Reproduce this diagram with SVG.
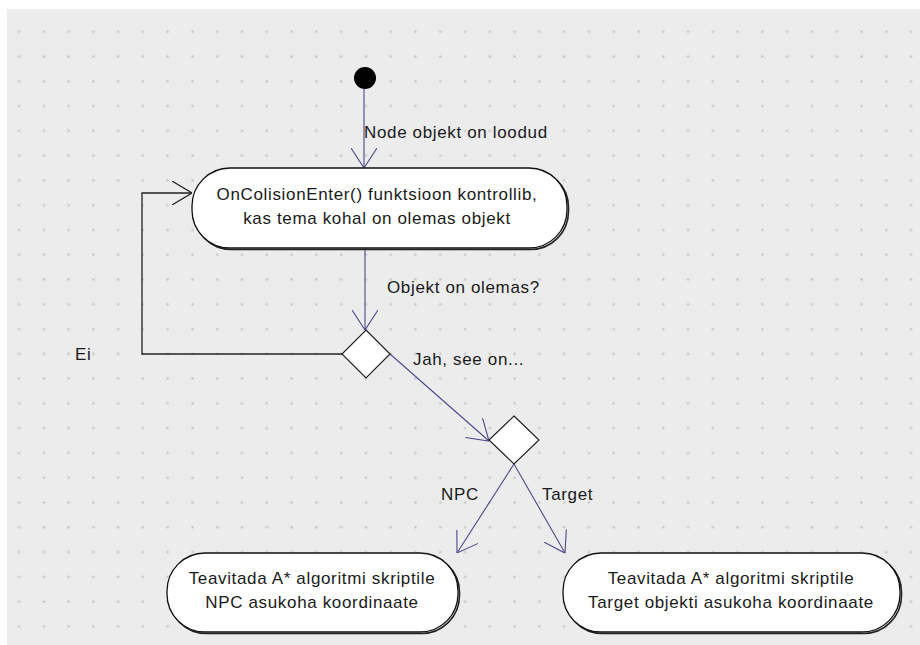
<svg xmlns="http://www.w3.org/2000/svg" width="920" height="645" viewBox="0 0 920 645">
  <style>
    .lbl { font-family: "Liberation Sans", Arial, sans-serif; font-size: 17px; letter-spacing: 0.65px; fill: #1a1a1a; }
    .act { fill: #fff; stroke: #111; stroke-width: 1.3; }
    .shadow { fill: none; stroke: #222; stroke-width: 1.6; }
    .flow { fill: none; stroke: #4a4a8c; stroke-width: 1.1; }
    .loop { fill: none; stroke: #222; stroke-width: 1.3; }
    .dec { fill: #fff; stroke: #222; stroke-width: 1.2; }
  </style>
  <defs>
    <pattern id="grid" patternUnits="userSpaceOnUse" x="6.6" y="19.3" width="24.78" height="24.78">
      <rect x="11.4" y="11.4" width="2" height="2" fill="#bdbdbd"/>
    </pattern>
    <marker id="open" viewBox="0 0 20 26" refX="20" refY="13" markerWidth="20" markerHeight="26" markerUnits="userSpaceOnUse" orient="auto">
      <path d="M0,0 L20,13 L0,26" fill="none" stroke="#4a4a8c" stroke-width="1.1"/>
    </marker>
    <marker id="openDark" viewBox="0 0 20 24" refX="20" refY="12" markerWidth="20" markerHeight="24" markerUnits="userSpaceOnUse" orient="auto">
      <path d="M0,0 L20,12 L0,24" fill="none" stroke="#222" stroke-width="1.2"/>
    </marker>
  </defs>

  <!-- canvas -->
  <rect width="920" height="645" fill="#fff"/>
  <rect x="7" y="9" width="913" height="636" fill="#ececec"/>
  <rect x="7" y="9" width="913" height="636" fill="url(#grid)"/>

  <!-- connectors -->
  <g id="connectors">
    <path class="flow" d="M364,89 L364,168" marker-end="url(#open)"/>
    <path class="flow" d="M365,248 L365,330" marker-end="url(#open)"/>
    <path class="loop" d="M342,354 L142,354 L142,193 L192,193" marker-end="url(#openDark)"/>
    <path class="flow" d="M390,354 L489,441" marker-end="url(#open)"/>
    <path class="flow" d="M514,464 L457,553" marker-end="url(#open)"/>
    <path class="flow" d="M514,464 L565,553" marker-end="url(#open)"/>
    <text class="lbl" x="364" y="138">Node objekt on loodud</text>
    <text class="lbl" x="387" y="293">Objekt on olemas?</text>
    <text class="lbl" x="75" y="360">Ei</text>
    <text class="lbl" x="413" y="365">Jah, see on...</text>
    <text class="lbl" x="441" y="500">NPC</text>
    <text class="lbl" x="542" y="500">Target</text>
  </g>

  <!-- start -->
  <g id="start">
    <circle cx="365" cy="78" r="11" fill="#000"/>
  </g>

  <!-- collision check -->
  <g id="check">
    <rect class="shadow" x="193.5" y="169.5" width="375" height="80" rx="38"/>
    <rect class="act" x="192" y="168" width="375" height="80" rx="38"/>
    <text class="lbl" x="377" y="200" text-anchor="middle">OnColisionEnter() funktsioon kontrollib,</text>
    <text class="lbl" x="377" y="224" text-anchor="middle">kas tema kohal on olemas objekt</text>
  </g>

  <!-- decision: object present -->
  <g id="decision1">
    <polygon class="dec" points="366,330 390,354 366,378 342,354"/>
  </g>

  <!-- decision: which object -->
  <g id="decision2">
    <polygon class="dec" points="514,416 539,440 514,464 489,440"/>
  </g>

  <!-- NPC notify -->
  <g id="notifyNpc">
    <rect class="shadow" x="168.5" y="554.5" width="291" height="79" rx="38"/>
    <rect class="act" x="167" y="553" width="291" height="79" rx="38"/>
    <text class="lbl" x="312" y="584" text-anchor="middle">Teavitada A* algoritmi skriptile</text>
    <text class="lbl" x="312" y="608" text-anchor="middle">NPC asukoha koordinaate</text>
  </g>

  <!-- Target notify -->
  <g id="notifyTarget">
    <rect class="shadow" x="564.5" y="554.5" width="337" height="79" rx="38"/>
    <rect class="act" x="563" y="553" width="337" height="79" rx="38"/>
    <text class="lbl" x="731" y="584" text-anchor="middle">Teavitada A* algoritmi skriptile</text>
    <text class="lbl" x="731" y="608" text-anchor="middle">Target objekti asukoha koordinaate</text>
  </g>
</svg>
